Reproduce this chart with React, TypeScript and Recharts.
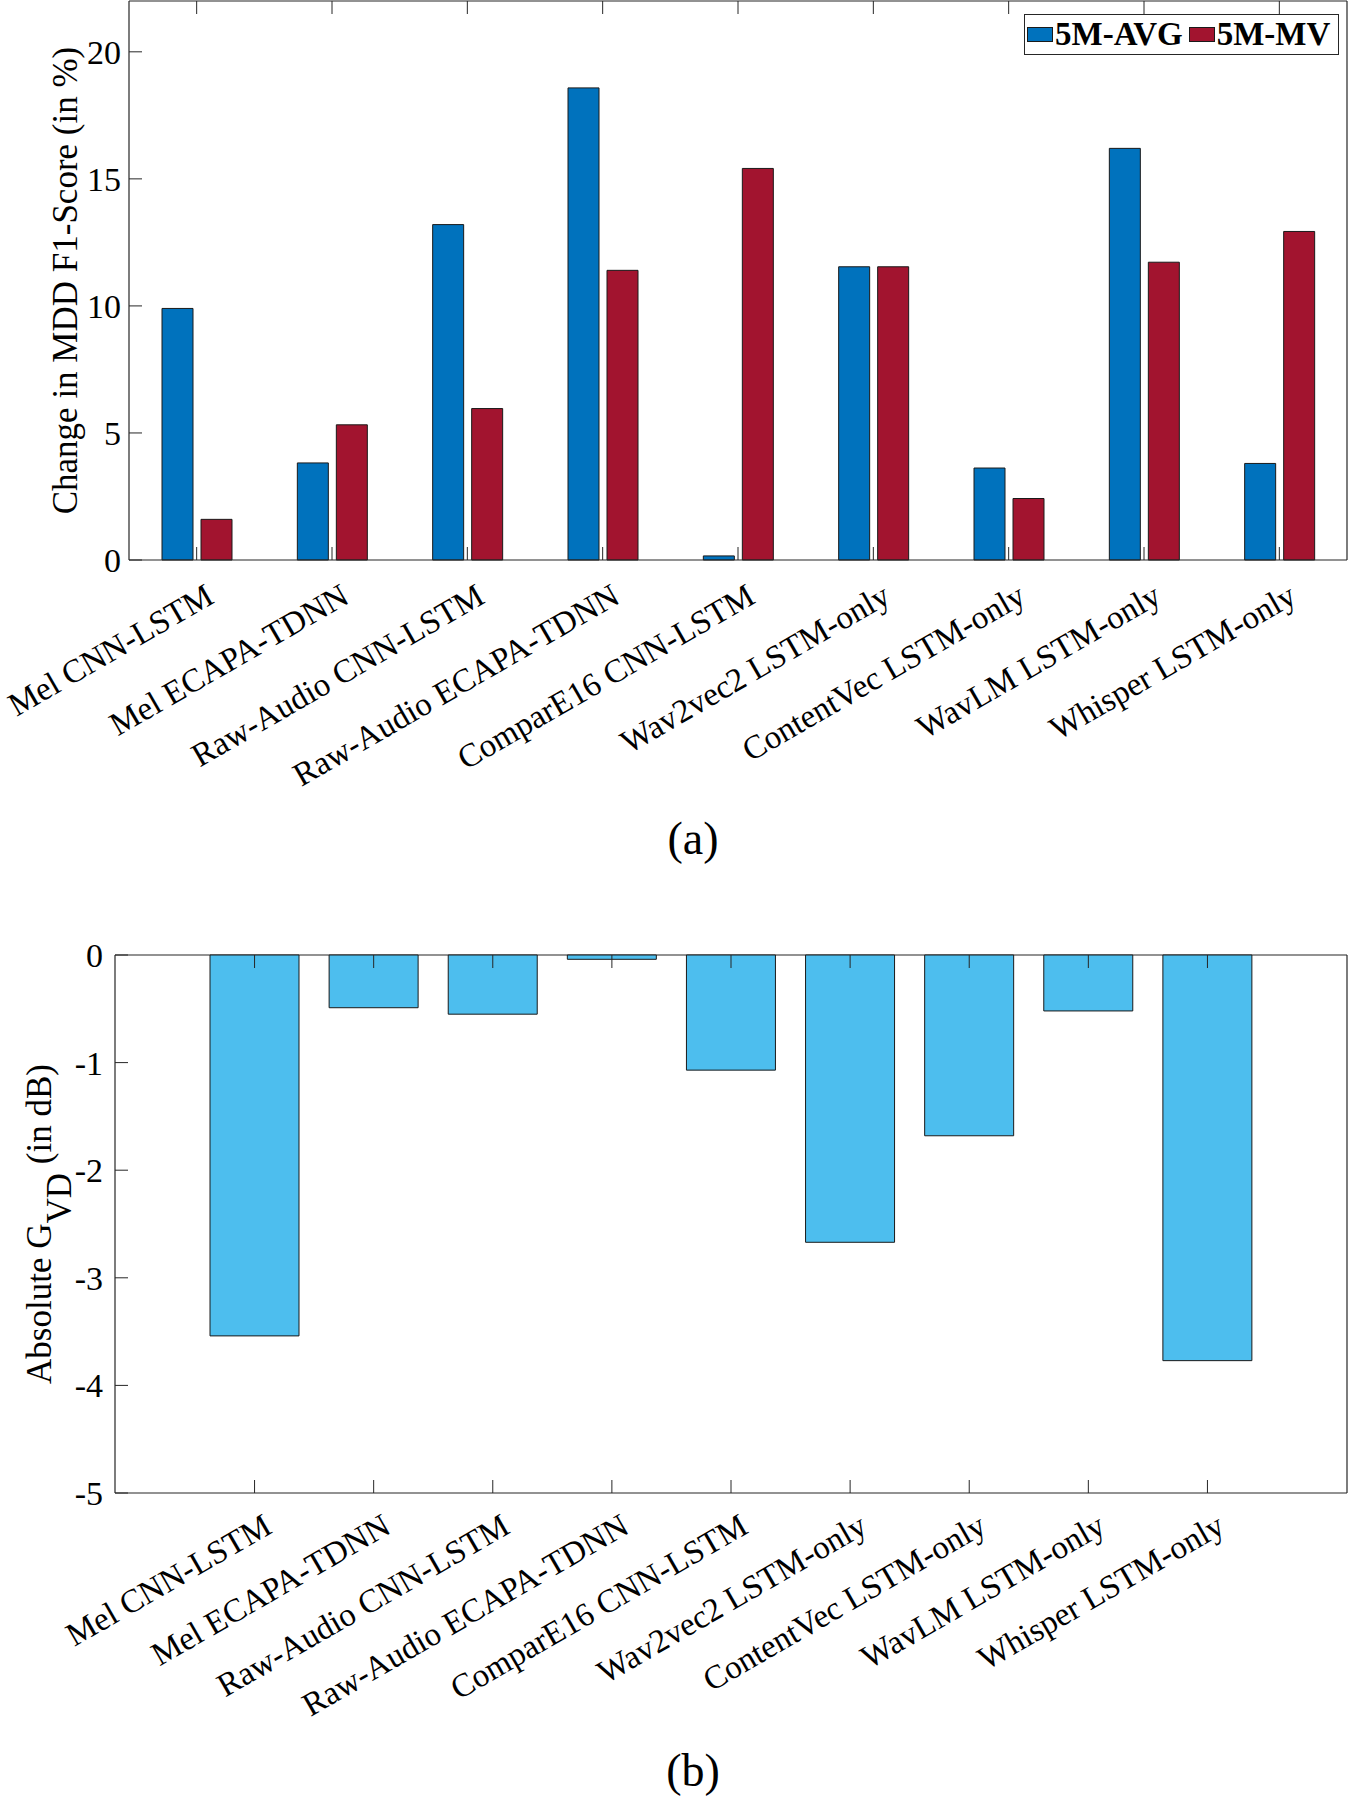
import React from 'react';
import { BarChart, Bar, XAxis, YAxis, Legend } from 'recharts';

// categories shared by both panels
const MODELS = [
  'Mel CNN-LSTM',
  'Mel ECAPA-TDNN',
  'Raw-Audio CNN-LSTM',
  'Raw-Audio ECAPA-TDNN',
  'ComparE16 CNN-LSTM',
  'Wav2vec2 LSTM-only',
  'ContentVec LSTM-only',
  'WavLM LSTM-only',
  'Whisper LSTM-only',
];

// panel (a): change in MDD F1-score (%)
const AVG_5M = [9.9, 3.82, 13.2, 18.58, 0.16, 11.54, 3.62, 16.2, 3.8];
const MV_5M = [1.6, 5.32, 5.96, 11.4, 15.41, 11.54, 2.42, 11.72, 12.93];
const F1_TICKS = [0, 5, 10, 15, 20];

// panel (b): absolute G_VD (dB)
const GVD = [-3.54, -0.49, -0.55, -0.04, -1.07, -2.67, -1.68, -0.52, -3.77];
const GVD_TICKS = [-5, -4, -3, -2, -1, 0];

const SERIES_NAMES = ['5M-AVG', '5M-MV'];

const BLUE = '#0072BD';
const RED = '#A2142F';
const SKY = '#4DBEEE';
const AXIS = '#262626';
const EDGE = '#1a1a1a';
const FONT = '"Liberation Serif", "Times New Roman", serif';
const TICK_LEN = 13;

const f1Data = MODELS.map((name, i) => ({ name, avg: AVG_5M[i], mv: MV_5M[i] }));
const gvdData = MODELS.map((name, i) => ({ name, gvd: GVD[i] }));

const BottomTick = ({ x, y, payload, dx, dy }: any) => {
  const tx = x + dx;
  const ty = y + dy;
  return (
    <g>
      <line x1={x} y1={y} x2={x} y2={y - TICK_LEN} stroke={AXIS} strokeWidth={1} />
      <text
        x={tx}
        y={ty}
        transform={`rotate(-30, ${tx}, ${ty})`}
        textAnchor="end"
        fontSize={33}
        fontFamily={FONT}
        fill="#000"
      >
        {payload.value}
      </text>
    </g>
  );
};

const TopTick = ({ x, y }: any) => (
  <line x1={x} y1={y} x2={x} y2={y + TICK_LEN} stroke={AXIS} strokeWidth={1} />
);

const LeftTick = ({ x, y, payload, gap }: any) => (
  <g>
    <line x1={x} y1={y} x2={x + TICK_LEN} y2={y} stroke={AXIS} strokeWidth={1} />
    <text x={x - gap} y={y} dy={12} textAnchor="end" fontSize={34} fontFamily={FONT} fill="#000">
      {payload.value}
    </text>
  </g>
);

const RightTick = ({ x, y }: any) => (
  <line x1={x} y1={y} x2={x - TICK_LEN} y2={y} stroke={AXIS} strokeWidth={1} />
);

const F1Label = ({ viewBox }: any) => {
  const cy = viewBox ? viewBox.y + viewBox.height / 2 : 280;
  const x = 77;
  return (
    <text x={x} y={cy} transform={`rotate(-90, ${x}, ${cy})`} textAnchor="middle" fontSize={35} fontFamily={FONT} fill="#000">
      Change in MDD F1-Score (in %)
    </text>
  );
};

const GvdLabel = ({ viewBox }: any) => {
  const cy = viewBox ? viewBox.y + viewBox.height / 2 : 294;
  const x = 51;
  return (
    <text x={x} y={cy} transform={`rotate(-90, ${x}, ${cy})`} textAnchor="middle" fontSize={35} fontFamily={FONT} fill="#000">
      Absolute G<tspan dy={20}>VD</tspan>
      <tspan dy={-20}> (in dB)</tspan>
    </text>
  );
};

const LegendBox = () => (
  <div
    style={{
      boxSizing: 'border-box',
      width: 315,
      height: 41,
      border: `1.3px solid ${AXIS}`,
      background: '#fff',
      display: 'flex',
      alignItems: 'center',
      paddingLeft: 2,
      fontFamily: FONT,
      fontWeight: 'bold',
      fontSize: 33,
      lineHeight: '33px',
      color: '#000',
      whiteSpace: 'nowrap',
    }}
  >
    {SERIES_NAMES.map((name, i) => (
      <React.Fragment key={name}>
        <span
          style={{
            display: 'inline-block',
            boxSizing: 'border-box',
            width: 26,
            height: 15,
            background: i === 0 ? BLUE : RED,
            border: `1px solid ${EDGE}`,
            marginLeft: i ? 6 : 0,
            marginRight: 2,
          }}
        />
        <span>{name}</span>
      </React.Fragment>
    ))}
  </div>
);

const axisLine = { stroke: AXIS, strokeWidth: 1.2 };

export default function App() {
  return (
    <div style={{ position: 'absolute', left: 0, top: 0, width: 1348, height: 1800, background: '#fff' }}>
      <div style={{ position: 'absolute', left: 0, top: 0 }}>
        <BarChart
          width={1348}
          height={930}
          data={f1Data}
          margin={{ top: 0, right: 0, bottom: 0, left: 69 }}
          barGap={8}
        >
          <XAxis
            dataKey="name"
            height={370}
            interval={0}
            tickSize={0}
            tickMargin={0}
            axisLine={axisLine}
            tickLine={false}
            tick={(p: any) => <BottomTick {...p} dx={19} dy={42} />}
          />
          <XAxis
            xAxisId="top"
            dataKey="name"
            orientation="top"
            height={1}
            interval={0}
            tickSize={0}
            tickMargin={0}
            axisLine={axisLine}
            tickLine={false}
            tick={(p: any) => <TopTick {...p} />}
          />
          <YAxis
            width={60}
            domain={[0, 22]}
            ticks={F1_TICKS}
            interval={0}
            tickSize={0}
            tickMargin={0}
            axisLine={axisLine}
            tickLine={false}
            tick={(p: any) => <LeftTick {...p} gap={8} />}
            label={<F1Label />}
          />
          <YAxis
            yAxisId="right"
            orientation="right"
            width={1}
            domain={[0, 22]}
            ticks={F1_TICKS}
            interval={0}
            tickSize={0}
            tickMargin={0}
            axisLine={axisLine}
            tickLine={false}
            tick={(p: any) => <RightTick {...p} />}
          />
          <Legend
            layout="horizontal"
            verticalAlign="middle"
            align="center"
            wrapperStyle={{ position: 'absolute', left: 1024, top: 14, width: 315, height: 41 }}
            content={() => <LegendBox />}
          />
          <Bar dataKey="avg" name={SERIES_NAMES[0]} fill={BLUE} stroke={EDGE} strokeWidth={1} barSize={31} isAnimationActive={false} />
          <Bar dataKey="mv" name={SERIES_NAMES[1]} fill={RED} stroke={EDGE} strokeWidth={1} barSize={31} isAnimationActive={false} />
        </BarChart>
      </div>

      <div style={{ position: 'absolute', left: 0, top: 930 }}>
        <BarChart width={1348} height={870} data={gvdData} margin={{ top: 24, right: 0, bottom: 0, left: 55 }}>
          <XAxis
            xAxisId="top"
            dataKey="name"
            orientation="top"
            height={1}
            interval={0}
            padding={{ left: 80, right: 80 }}
            tickSize={0}
            tickMargin={0}
            axisLine={axisLine}
            tickLine={false}
            tick={(p: any) => <TopTick {...p} />}
            zIndex={-50}
          />
          <XAxis
            dataKey="name"
            height={307}
            interval={0}
            padding={{ left: 80, right: 80 }}
            tickSize={0}
            tickMargin={0}
            axisLine={axisLine}
            tickLine={false}
            tick={(p: any) => <BottomTick {...p} dx={19} dy={39} />}
          />
          <YAxis
            width={60}
            domain={[-5, 0]}
            ticks={GVD_TICKS}
            interval={0}
            tickSize={0}
            tickMargin={0}
            axisLine={axisLine}
            tickLine={false}
            tick={(p: any) => <LeftTick {...p} gap={12} />}
            label={<GvdLabel />}
          />
          <YAxis
            yAxisId="right"
            orientation="right"
            width={1}
            domain={[-5, 0]}
            ticks={GVD_TICKS}
            interval={0}
            tickSize={0}
            tickMargin={0}
            axisLine={axisLine}
            tickLine={false}
            tick={(p: any) => <RightTick {...p} />}
          />
          <Bar dataKey="gvd" fill={SKY} stroke={EDGE} strokeWidth={1} barSize={89} isAnimationActive={false} />
        </BarChart>
      </div>

      <div style={{ position: 'absolute', left: 593, top: 816, width: 200, textAlign: 'center', fontFamily: FONT, fontSize: 46, lineHeight: '46px' }}>
        (a)
      </div>
      <div style={{ position: 'absolute', left: 593, top: 1748, width: 200, textAlign: 'center', fontFamily: FONT, fontSize: 46, lineHeight: '46px' }}>
        (b)
      </div>
    </div>
  );
}
